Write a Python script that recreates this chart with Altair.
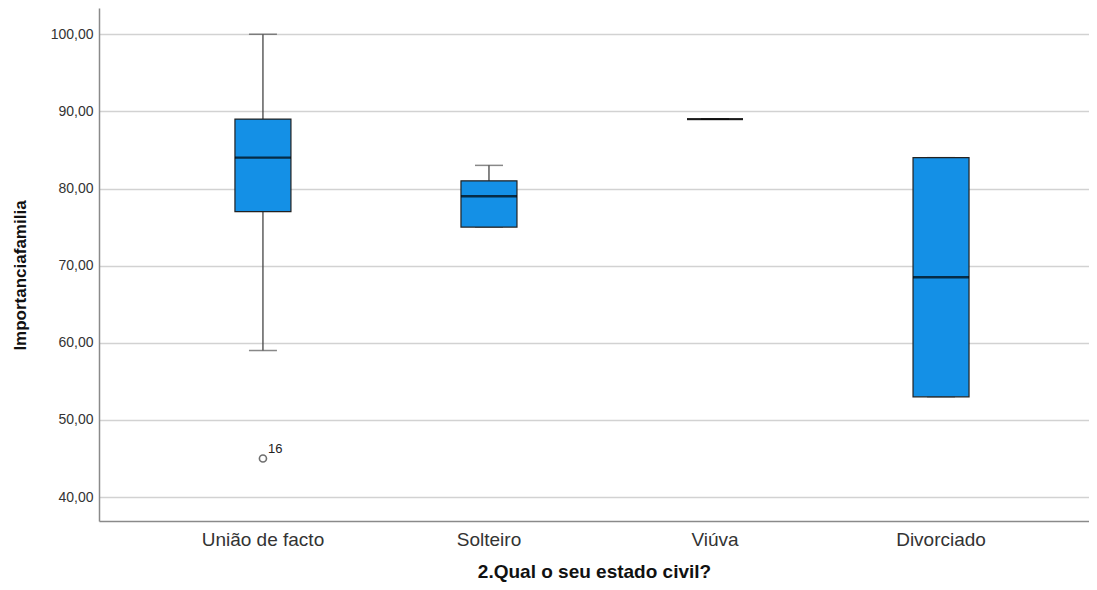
import altair as alt
import pandas as pd

categories = ["União de facto", "Solteiro", "Viúva", "Divorciado"]
whisker_low = [59, 75, 89, 53]
q1 = [77, 75, 89, 53]
median = [84, 79, 89, 68.5]
q3 = [89, 81, 89, 84]
whisker_high = [100, 83, 89, 84]

outlier_cat = ["União de facto"]
outlier_val = [45]
outlier_label = ["16"]

y_ticks = [40, 50, 60, 70, 80, 90, 100]

box = pd.DataFrame({
    "cat": categories,
    "lo": whisker_low,
    "q1": q1,
    "med": median,
    "q3": q3,
    "hi": whisker_high,
})
out = pd.DataFrame({"cat": outlier_cat, "val": outlier_val, "lab": outlier_label})

FONT = "Liberation Sans"

xs = alt.X(
    "cat:N",
    sort=categories,
    scale=alt.Scale(paddingInner=0, paddingOuter=0.19, align=0.593),
    axis=alt.Axis(
        title="2.Qual o seu estado civil?",
        labelAngle=0,
        labelFontSize=19,
        labelFont=FONT,
        labelColor="#333333",
        labelPadding=9,
        ticks=False,
        domainColor="#8a8a8a",
        domainWidth=1.5,
        grid=False,
        titleFont=FONT,
        titleFontSize=19,
        titleFontWeight="bold",
        titleColor="#111111",
        titlePadding=13,
    ),
)

yscale = alt.Scale(domain=[36.9, 103.4], nice=False, zero=False)
yaxis = alt.Axis(
    title="Importanciafamilia",
    values=y_ticks,
    labelExpr="replace(format(datum.value, '.2f'), '.', ',')",
    labelFontSize=14,
    labelFont=FONT,
    labelColor="#333333",
    labelPadding=6,
    ticks=False,
    domainColor="#8a8a8a",
    domainWidth=1.5,
    grid=True,
    gridColor="#d2d2d2",
    gridWidth=1.5,
    titleFont=FONT,
    titleFontSize=17,
    titleFontWeight="bold",
    titleColor="#111111",
    titlePadding=21,
    titleY=267,
)

base = alt.Chart(box)

whisk = base.mark_rule(color="#444444", strokeWidth=1.3).encode(
    x=xs,
    y=alt.Y("lo:Q", scale=yscale, axis=yaxis),
    y2="hi:Q",
)

bars = base.mark_bar(size=56, fill="#1490e6", stroke="#222222", strokeWidth=1.2).encode(
    x=alt.X("cat:N", sort=categories),
    y=alt.Y("q1:Q"),
    y2="q3:Q",
)

cap_hi = base.mark_tick(size=28, thickness=1.5, color="#555555").encode(
    x=alt.X("cat:N", sort=categories),
    y=alt.Y("hi:Q"),
)
cap_lo = base.mark_tick(size=28, thickness=1.5, color="#555555").encode(
    x=alt.X("cat:N", sort=categories),
    y=alt.Y("lo:Q"),
)

med = base.mark_tick(size=56, thickness=2.4, color="#000000").encode(
    x=alt.X("cat:N", sort=categories),
    y=alt.Y("med:Q"),
)

pts = alt.Chart(out).mark_point(
    shape="circle", filled=False, size=50, color="#333333", strokeWidth=1.6
).encode(
    x=alt.X("cat:N", sort=categories),
    y=alt.Y("val:Q"),
)

labs = alt.Chart(out).mark_text(
    align="left", baseline="bottom", dx=5, dy=-3, fontSize=13, font=FONT, color="#222222"
).encode(
    x=alt.X("cat:N", sort=categories),
    y=alt.Y("val:Q"),
    text="lab:N",
)

chart = (
    alt.layer(whisk, cap_hi, cap_lo, bars, med, pts, labs)
    .properties(
        width=990,
        height=513,
        padding={"left": 91, "top": 0, "right": 0, "bottom": 61},
        autosize=alt.AutoSizeParams(type="none"),
        background="white",
    )
    .configure_view(stroke=None)
)

chart.save("out.html", embed_options={"renderer": "svg", "actions": False})
